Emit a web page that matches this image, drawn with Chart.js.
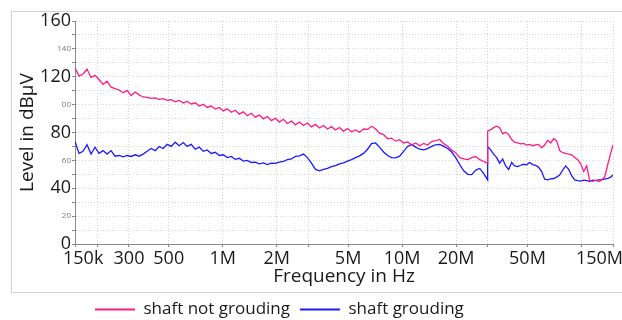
<!DOCTYPE html>
<html><head><meta charset="utf-8">
<script src="https://cdn.jsdelivr.net/npm/chart.js@4/dist/chart.umd.min.js"></script>
<style>html,body{margin:0;padding:0;background:#fff;overflow:hidden}#wrap{width:622px;height:320px;position:relative}</style>
</head><body><div id="wrap"><canvas id="c" width="622" height="320"></canvas></div>
<script>
// ---- data ----
const freqBandA_kHz = [150,157.9,166.3,175,184.3,194,204.2,215,226.4,238.3,
250.9,264.2,278.1,292.8,308.3,324.6,341.7,359.7,378.7,398.7,
419.8,442,465.3,489.9,515.7,543,571.6,601.8,633.6,667,
702.3,739.3,778.4,819.5,862.7,908.3,956.2,1006.7,1059.8,1115.8,
1174.7,1236.7,1302,1370.8,1443.2,1519.4,1599.6,1684.1,1773,1866.6,
1965.2,2069,2178.2,2293.2,2414.3,2541.8,2676,2817.3,2966.1,3122.7,
3287.6,3461.2,3644,3836.4,4039,4252.2,4476.8,4713.2,4962,5224,
5499.9,5790.3,6096,6417.9,6756.8,7113.6,7489.2,7884.6,8300.9,8739.2,
9200.7,9686.5,10198,10736,11303,11900,12528,13190,13886,14620,
15392,16204,17060,17961,18909,19908,20959,22065,23230,24457,
25748,27108,28539,30000];
const notGroundedBandA = [126.5,120.5,122,125.5,119.5,121,118,114.5,116.8,112.5,
111.5,110.5,108.5,110.2,106.5,109,107,105.5,105.2,104.5,
104.8,103.8,104.3,103,103.5,102,103,101.2,102.3,100.5,
101.3,99,100.2,98,99,96.8,98,95.5,97,94.5,
96,93.2,94.8,92,93.8,91,92.5,89.8,91.5,88.5,
90.2,87.5,89.5,86.5,88.2,85.5,87.5,85,86.8,84,
85.8,83.2,85,82.5,84.2,81.8,83.5,81,82.8,80.5,
81.8,80.2,82.5,82.2,84.5,82.5,79.5,78.5,75.5,76,
73.8,74.8,72.5,73.2,71,72.5,70.5,72.2,71,73.5,
74.2,75,72,70.2,67.5,65.5,62,61,60.5,62,
62.8,60.5,59.2,58];
const groundedBandA = [73.6,65,66.5,71.2,64.5,69.5,65,67,64.5,67,
63,63.5,62.5,63.5,62.8,64,63,64.5,66.5,68.5,
67,70,68.5,71.5,70,73,70.5,72.8,70,71.5,
68,69.5,66.5,67.5,65,65.8,63.5,64,62,62.8,
60.8,61.5,59.5,60,58.5,58.8,57.5,58.2,57,58,
57.8,58.8,59.2,60.5,61,62.8,63.2,64.5,62,58,
53.5,52.5,53.5,54.2,55.5,56.2,57.5,58.2,59.5,60.5,
62,63.2,65,68,72,72.5,69.5,66,63.5,62,
61.8,63,66.5,70,71.5,69.5,68,67.5,68.5,70,
71.2,71.5,70,68.5,66,62,57,52.5,50,49.8,
53,54.2,50.5,46];
const freqBandB_MHz = [30,31.18,32.4,33.68,35,36.37,37.8,39.29,40.83,42.43,
44.1,45.83,47.63,49.5,51.45,53.47,55.57,57.75,60.02,62.38,
64.83,67.38,70.03,72.78,75.64,78.61,81.7,84.91,88.25,91.72,
95.32,99.07,102.96,107,111.2,115.58,120.12,124.84,129.74,134.84,
140.14,145.65,150];
const notGroundedBandB = [81,82,83.5,84.5,83.5,79,80.2,78.5,75,73,
72.5,71.8,72.2,71,71.5,70.5,71.2,71.5,69,71,
74.5,72.5,75.5,74,67,65.5,65,64.5,64,62,
60.5,57.5,52,56,45.5,45,45.8,44.8,46,48,
57,65,71];
const groundedBandB = [70,67.5,64.5,62,58,61,56,53.5,58.5,56,
55.5,56.5,57.2,56.8,58.5,57,56.5,55,52,46.5,
46,46.8,47,48,49.5,53,56,53.5,49,46,
45.5,45.2,45.8,45.5,45,45.8,45.5,46,46.2,46.5,
47,48,49.5];
const seriesNames = ['shaft not grouding', 'shaft grouding'];
const xTickValues = [150e3,200e3,300e3,500e3,1e6,2e6,3e6,5e6,10e6,20e6,30e6,50e6,100e6,150e6];
const xTickLabels = ['150k','','300','500','1M','2M','','5M','10M','20M','','50M','','150M'];
const yMajorTicks = [0,40,80,120,160];
const yMinorTicks = [20,60,100,140];
const yMinorTickLabels = ['20','60','00','140'];
const axisTitles = { x: 'Frequency in Hz', y: 'Level in dB\u03BCV' };

// ---- build points ----
function toPoints(freqs, unit, vals) { return freqs.map((f, i) => ({ x: f * unit, y: vals[i] })); }
const notGroundedPts = toPoints(freqBandA_kHz, 1e3, notGroundedBandA).concat(toPoints(freqBandB_MHz, 1e6, notGroundedBandB));
const groundedPts = toPoints(freqBandA_kHz, 1e3, groundedBandA).concat(toPoints(freqBandB_MHz, 1e6, groundedBandB));

const PINK = '#ff1a85', BLUE = '#1a1aff';
Chart.defaults.font.family = "'Open Sans', 'Noto Sans', sans-serif";
Chart.defaults.color = '#1a1a1a';

const decor = {
  id: 'decor',
  afterLayout(chart) {
    const lg = chart.legend;
    if (!lg) return;
    lg.left = 85; lg.right = 622; lg.top = 291; lg.bottom = 331;
  },
  beforeDraw(chart) {
    const ctx = chart.ctx;
    ctx.save();
    ctx.strokeStyle = '#d0d0d0'; ctx.lineWidth = 1;
    ctx.strokeRect(11.5, 11.5, 700, 281);
    ctx.restore();
    const items = chart.scales.x.getLabelItems();
    items.forEach(it => {
      if (it._adj) return; it._adj = true;
      if (it.label === xTickLabels[0]) it.options.translation[0] -= 12;
      if (it.label === xTickLabels[xTickLabels.length - 1]) it.options.translation[0] += 10;
    });
  }
};

const gridCommon = { color: '#d4d4d4', tickColor: '#888', tickLength: 3, lineWidth: 1 };
const borderCommon = { color: '#8a8a8a', width: 1, dash: [1, 2] };

new Chart(document.getElementById('c'), {
  type: 'line',
  data: {
    datasets: [
      { label: seriesNames[0], data: notGroundedPts, borderColor: PINK, backgroundColor: PINK, borderWidth: 1.3, pointRadius: 0, tension: 0 },
      { label: seriesNames[1], data: groundedPts, borderColor: BLUE, backgroundColor: BLUE, borderWidth: 1.3, pointRadius: 0, tension: 0 }
    ]
  },
  options: {
    responsive: false, animation: false, devicePixelRatio: 1,
    layout: { padding: { left: 12, top: 21, right: 9, bottom: 0 } },
    plugins: {
      tooltip: { enabled: false },
      legend: {
        position: 'bottom', align: 'start', maxHeight: 28,
        labels: {
          usePointStyle: true, pointStyleWidth: 40, padding: 10,
          font: { size: 17 }, color: '#1a1a1a',
          generateLabels: (chart) => Chart.defaults.plugins.legend.labels.generateLabels(chart)
            .map(l => Object.assign(l, { pointStyle: 'line', lineWidth: 2 }))
        }
      }
    },
    scales: {
      x: {
        type: 'logarithmic', min: 150e3, max: 150e6,
        afterBuildTicks: (s) => { s.ticks = xTickValues.map(v => ({ value: v })); },
        ticks: {
          autoSkip: false, maxRotation: 0, minRotation: 0, align: 'inner', padding: 1,
          font: { size: 18 }, color: '#1a1a1a',
          callback: (v, i) => xTickLabels[i]
        },
        grid: gridCommon, border: borderCommon,
        title: { display: true, text: axisTitles.x, font: { size: 19 }, color: '#1a1a1a', padding: { top: 0, bottom: 4 } },
        afterFit: (s) => { s.height = 48; }
      },
      y: {
        min: 0, max: 160,
        ticks: {
          stepSize: 10, autoSkip: false, padding: 1,
          callback: (v) => yMajorTicks.includes(v) ? String(v) : (yMinorTicks.includes(v) ? yMinorTickLabels[yMinorTicks.indexOf(v)] : ''),
          font: (c) => (c.tick && yMajorTicks.includes(c.tick.value)) ? { size: 18 } : { size: 8 },
          color: (c) => (c.tick && yMajorTicks.includes(c.tick.value)) ? '#1a1a1a' : '#777'
        },
        grid: gridCommon, border: borderCommon,
        title: { display: true, text: axisTitles.y, font: { size: 19 }, color: '#1a1a1a', padding: { top: 4, bottom: 4 } },
        afterFit: (s) => { s.width = 63; }
      }
    }
  },
  plugins: [decor]
});
</script>
</body></html>
